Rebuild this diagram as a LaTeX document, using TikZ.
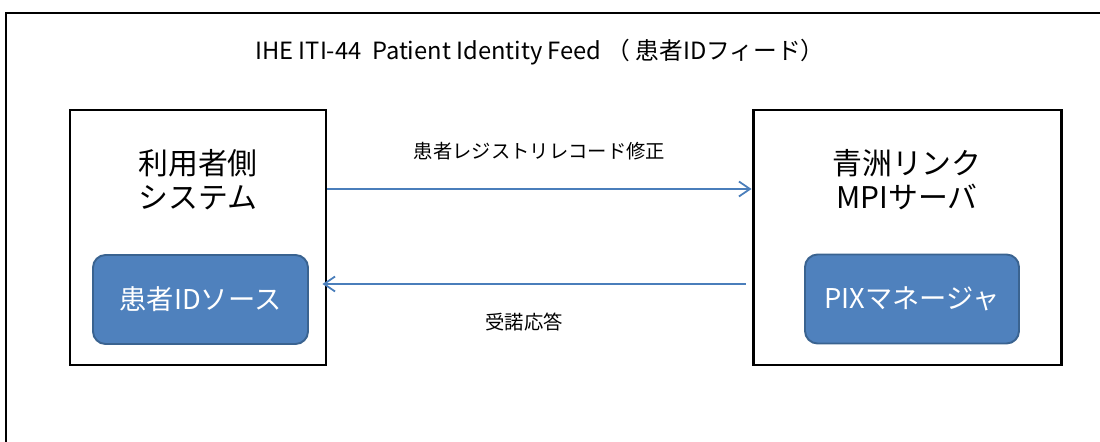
\documentclass[tikz,border=0pt]{standalone}
\usepackage{fontspec}
\setmainfont{Noto Sans CJK JP}
\usetikzlibrary{arrows.meta}
\definecolor{boxblue}{HTML}{4F81BD}
\definecolor{boxedge}{HTML}{3A6390}
\definecolor{arrowblue}{HTML}{4A7EBB}
\tikzset{
  system/.style={draw, line width=1.7pt, minimum height=5.1cm, inner sep=0pt},
  actor/.style={draw=boxedge, fill=boxblue, line width=1.1pt, rounded corners=0.25cm,
    text=white, font=\fontsize{15.5}{17}\selectfont, minimum height=1.78cm},
  syslabel/.style={align=center, font=\fontsize{17}{19.5}\selectfont},
  msg/.style={arrowblue, line width=1pt, -{Straight Barb[length=0.22cm,width=0.3cm]}},
  msglabel/.style={text=black, font=\fontsize{11}{13}\selectfont},
}
\begin{document}
\begin{tikzpicture}
    \useasboundingbox (0,0) rectangle (22,-8.84);

    % 外枠(右と下は切れている)
    \draw[line width=1.7pt] (22.3,-0.26) -- (0.12,-0.26) -- (0.12,-9.1);

    % タイトル
    \node[font=\fontsize{13.5}{15}\selectfont] (title) at (10.8,-1.04)
      {IHE ITI-44\ \ Patient Identity Feed （ 患者IDフィード）};

    % 利用者側システム
    \node[system, minimum width=5.12cm] (user) at (3.96,-4.75) {};
    \node[syslabel] (userlabel) at (3.96,-3.6) {利用者側\\システム};
    \node[actor, minimum width=4.3cm] (source) at (4.01,-5.99) {患者IDソース};

    % 青洲リンク MPIサーバ
    \node[system, minimum width=6.16cm] (mpi) at (18.14,-4.75) {};
    \node[syslabel] (mpilabel) at (18.14,-3.6) {青洲リンク\\MPIサーバ};
    \node[actor, minimum width=4.28cm] (manager) at (18.24,-5.98) {PIXマネージャ};

    % メッセージ
    \draw[msg] ([yshift=0.97cm]user.east) -- ([yshift=0.97cm]mpi.west)
      node[msglabel, midway, above=0.45cm] (request) {患者レジストリレコード修正};
    \draw[msg] ([xshift=-0.12cm, yshift=-0.93cm]mpi.west) -- ([xshift=-0.1cm, yshift=-0.93cm]user.east)
      node[msglabel, midway, below=0.45cm, xshift=-0.2cm] (reply) {受諾応答};
\end{tikzpicture}
\end{document}
